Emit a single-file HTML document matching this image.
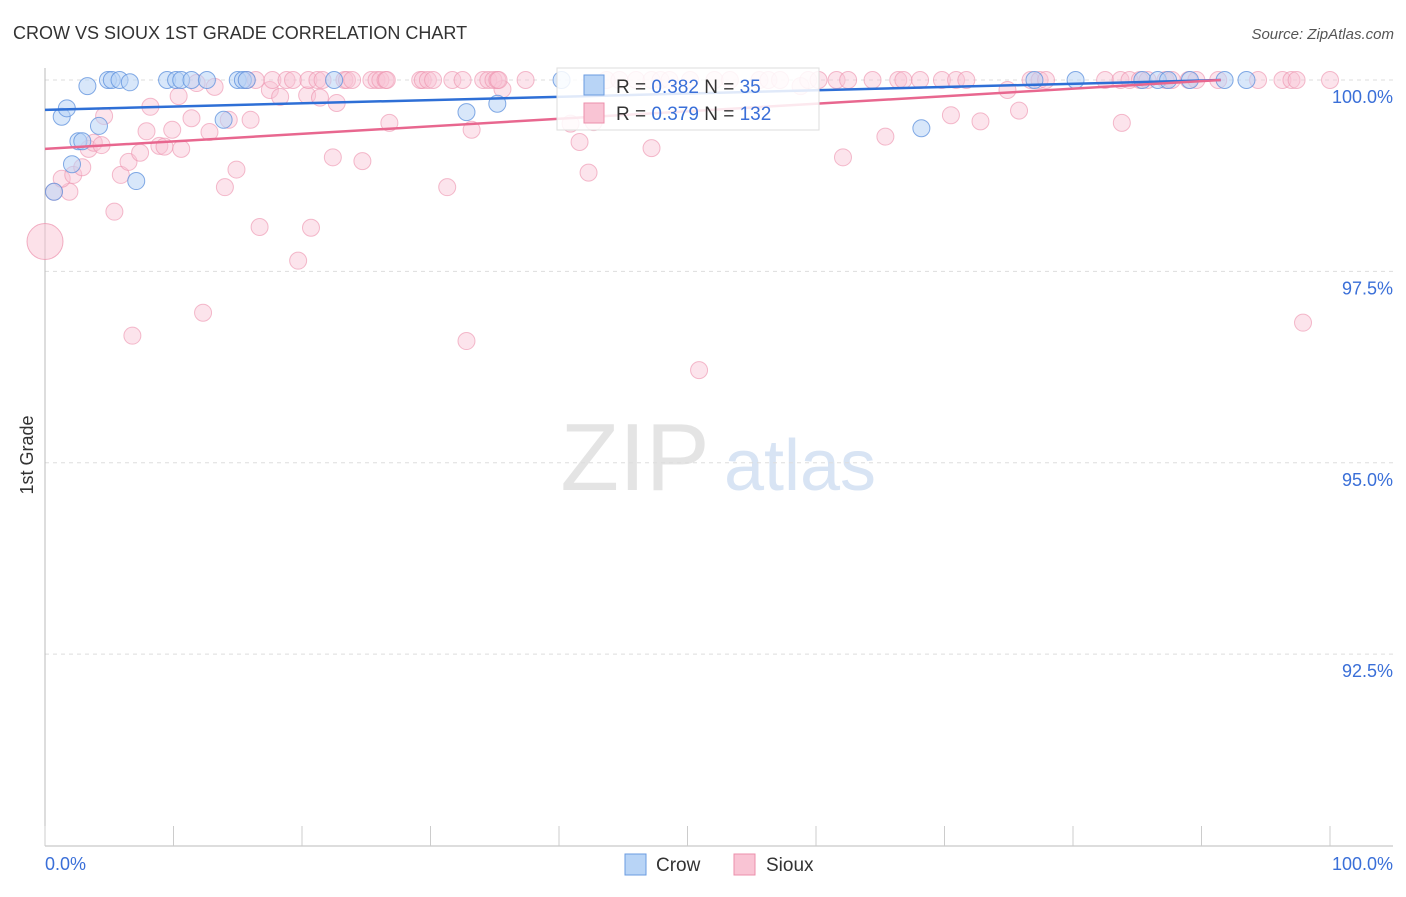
<!DOCTYPE html>
<html><head><meta charset="utf-8"><style>
body{margin:0;background:#fff;font-family:"Liberation Sans",sans-serif;}
svg text{font-family:"Liberation Sans",sans-serif;}
</style></head><body>
<svg id="chart" width="1406" height="892" xmlns="http://www.w3.org/2000/svg">
<text x="13" y="39" font-size="18" fill="#333">CROW VS SIOUX 1ST GRADE CORRELATION CHART</text>
<text x="1394" y="39" font-size="15" fill="#555" text-anchor="end" font-style="italic">Source: ZipAtlas.com</text>
<g>
<text x="635" y="490" font-size="96" fill="#e4e4e4" font-family="Liberation Serif" text-anchor="middle">ZIP</text>
<text x="800" y="490" font-size="72" fill="#d8e4f4" text-anchor="middle">atlas</text>
</g>
<g id="grid"></g>
<g id="axes"></g>
<g id="marks"></g>
<text transform="translate(33,455) rotate(-90)" font-size="18" fill="#333" text-anchor="middle">1st Grade</text>
<g>
<rect x="557" y="68" width="262" height="62" fill="#fff" fill-opacity="0.85" stroke="#ddd"/>
<rect x="584" y="75" width="20" height="20" fill="#b8d4f6" stroke="#6a9be0"/>
<text x="616" y="93" font-size="19" fill="#333">R = <tspan fill="#3a6fd8">0.382</tspan>   N = <tspan fill="#3a6fd8">  35</tspan></text>
<rect x="584" y="103" width="20" height="20" fill="#f9c4d4" stroke="#ec8fab"/>
<text x="616" y="120" font-size="19" fill="#333">R = <tspan fill="#3a6fd8">0.379</tspan>   N = <tspan fill="#3a6fd8">132</tspan></text>
</g>
<g>
<rect x="625" y="854" width="21" height="21" fill="#b8d4f6" stroke="#6a9be0"/>
<text x="656" y="871" font-size="19" fill="#333">Crow</text>
<rect x="734" y="854" width="21" height="21" fill="#f9c4d4" stroke="#ec8fab"/>
<text x="766" y="871" font-size="19" fill="#333">Sioux</text>
</g>
</svg>
<script>
const yTicks=[100,97.5,95,92.5];
const yTickLabels=["100.0%","97.5%","95.0%","92.5%"];
const xEndLabels=["0.0%","100.0%"];
const crowPts=[[0.7,98.54],[1.3,99.52],[1.7,99.63],[2.1,98.90],[2.6,99.20],[2.9,99.20],[3.3,99.92],[4.2,99.40],[4.9,100],[5.2,100],[5.8,100],[6.6,99.97],[7.1,98.68],[9.5,100],[10.2,100],[10.6,100],[11.4,100],[12.6,100],[13.9,99.48],[15.0,100],[15.4,100],[15.7,100],[22.5,100],[32.8,99.58],[35.2,99.69],[40.2,100],[68.2,99.37],[77.0,100],[80.2,100],[85.4,100],[86.6,100],[87.4,100],[89.1,100],[91.8,100],[93.5,100]];
const siouxPts=[[0.7,98.54],[1.9,98.54],[1.3,98.71],[2.2,98.76],[2.9,98.86],[3.4,99.10],[3.8,99.18],[4.4,99.15],[4.6,99.53],[5.4,98.28],[5.9,98.76],[6.5,98.93],[7.4,99.05],[6.8,96.66],[7.9,99.33],[8.2,99.65],[8.9,99.14],[9.3,99.13],[9.9,99.35],[10.6,99.10],[10.4,99.79],[11.4,99.50],[11.8,99.96],[12.3,96.96],[12.8,99.32],[13.2,99.91],[14.0,98.60],[14.3,99.48],[14.9,98.83],[16.0,99.48],[16.7,98.08],[17.5,99.87],[18.3,99.78],[19.7,97.64],[20.4,99.80],[20.7,98.07],[21.4,99.77],[22.4,98.99],[22.7,99.70],[24.7,98.94],[26.8,99.44],[31.3,98.60],[32.8,96.59],[33.2,99.35],[35.6,99.88],[40.9,99.43],[42.7,99.45],[41.6,99.19],[42.3,98.79],[47.2,99.11],[50.9,96.21],[58.8,99.92],[62.1,98.99],[65.4,99.26],[70.5,99.54],[72.8,99.46],[74.9,99.87],[75.8,99.60],[83.8,99.44],[97.9,96.83],
[15.7,100],[16.4,100],[17.7,100],[18.8,100],[19.3,100],[20.5,100],[21.2,100],[21.6,100],[23.3,100],[23.5,100],[23.9,100],[25.4,100],[25.8,100],[26.1,100],[26.5,100],[26.6,100],[29.2,100],[29.4,100],[29.8,100],[30.2,100],[31.7,100],[32.5,100],[34.1,100],[34.5,100],[34.9,100],[35.2,100],[35.3,100],[37.4,100],[43.7,100],[44.7,100],[46.0,100],[47.2,100],[47.9,100],[48.6,100],[50.2,100],[52.1,100],[53.3,100],[55.6,100],[56.3,100],[57.2,100],[59.4,100],[60.2,100],[61.6,100],[62.5,100],[64.4,100],[66.4,100],[66.8,100],[68.1,100],[69.8,100],[70.9,100],[71.7,100],[76.7,100],[77.4,100],[77.9,100],[82.5,100],[83.7,100],[84.4,100],[85.2,100],[85.8,100],[87.2,100],[87.7,100],[89.0,100],[89.6,100],[91.3,100],[94.4,100],[96.3,100],[97.0,100],[97.4,100],[100,100]];
const siouxBig=[0,97.89];
const crowLine=[0,99.61,91.5,100.0];
const siouxLine=[0,99.10,91.5,100.0];

const NS="http://www.w3.org/2000/svg";
const X0=45,X1=1330,YT=80,YB=845.5;
function sx(v){return X0+(v/100)*(X1-X0);}
function sy(v){return YT+(100-v)/10*(YB-YT);}
function mk(tag,attrs,parent){const e=document.createElementNS(NS,tag);for(const k in attrs)e.setAttribute(k,attrs[k]);parent.appendChild(e);return e;}
const grid=document.getElementById('grid'),axes=document.getElementById('axes'),marks=document.getElementById('marks');
yTicks.forEach((t,i)=>{
 const l=mk('line',{x1:45,x2:1393,y1:sy(t),y2:sy(t),stroke:'#ddd','stroke-dasharray':'4,4'},grid);
 
 
 const tx=mk('text',{x:1393,y:sy(t)+23,'font-size':18,fill:'#3a6fd8','text-anchor':'end'},axes);
 tx.textContent=yTickLabels[i];
 
 
});
const ya=mk('line',{x1:45,x2:45,y1:68,y2:846,stroke:'#bbb'},axes);


const xa=mk('line',{x1:45,x2:1393,y1:846,y2:846,stroke:'#bbb'},axes);


for(let i=0;i<=10;i++){
 const t=mk('line',{x1:sx(i*10),x2:sx(i*10),y1:826,y2:846,stroke:'#ccc'},axes);
 
 
}
[[0,'start',45],[100,'end',1393]].forEach((d,i)=>{
 const tx=mk('text',{x:d[2],y:870,'font-size':18,fill:'#3a6fd8','text-anchor':d[1]},axes);
 tx.textContent=xEndLabels[i];
 
 
});
const big=mk('circle',{cx:sx(siouxBig[0]),cy:sy(siouxBig[1]),r:18,fill:'#f9c4d4','fill-opacity':0.5,stroke:'#ec8fab','stroke-opacity':0.7},marks);


siouxPts.forEach(p=>{
 const c=mk('circle',{cx:sx(p[0]),cy:sy(p[1]),r:8.5,fill:'#f9c4d4','fill-opacity':0.45,stroke:'#ec8fab','stroke-opacity':0.6},marks);
 
 
});
crowPts.forEach(p=>{
 const c=mk('circle',{cx:sx(p[0]),cy:sy(p[1]),r:8.5,fill:'#b8d4f6','fill-opacity':0.55,stroke:'#5b8fdc','stroke-opacity':0.75},marks);
 
 
});
const cl=mk('line',{x1:sx(crowLine[0]),y1:sy(crowLine[1]),x2:sx(crowLine[2]),y2:sy(crowLine[3]),stroke:'#2e6fd6','stroke-width':2.5},marks);


const sl=mk('line',{x1:sx(siouxLine[0]),y1:sy(siouxLine[1]),x2:sx(siouxLine[2]),y2:sy(siouxLine[3]),stroke:'#e8678f','stroke-width':2.5},marks);


</script>
</body></html>
